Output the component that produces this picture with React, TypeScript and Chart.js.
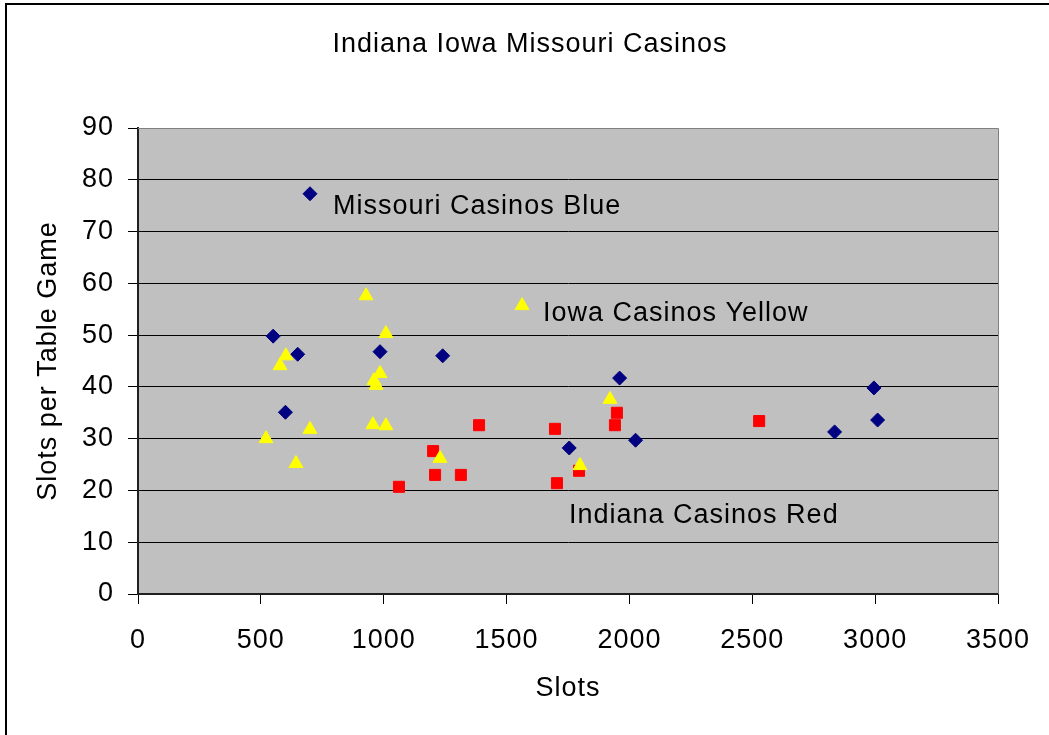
import React, { useEffect, useRef } from "react";
import { Chart, registerables } from "chart.js";

Chart.register(...registerables);

const FONT_FAMILY = "'Liberation Sans', Arial, Helvetica, sans-serif";
const FONT_SIZE = 27;

const chartTitle = "Indiana Iowa Missouri Casinos";
const xAxisTitle = "Slots";
const yAxisTitle = "Slots per Table Game";

// Axis ranges (tick labels 0..3500 by 500, 0..90 by 10)
const xMin = 0;
const xMax = 3500;
const xStep = 500;
const yMin = 0;
const yMax = 90;
const yStep = 10;

// Missouri casinos: slot machines vs slots per table game
const missouriSlots = [700, 550, 650, 985, 1240, 600, 1960, 1755, 2025, 2835, 2995, 3010];
const missouriRatio = [77.3, 49.8, 46.3, 46.8, 46.0, 35.1, 41.7, 28.2, 29.7, 31.3, 39.8, 33.6];

// Iowa casinos
const iowaSlots = [928, 1009, 602, 578, 985, 960, 969, 1921, 956, 1009, 700, 521, 643, 1229, 1799, 1563];
const iowaRatio = [57.6, 50.3, 46.0, 44.1, 42.6, 41.2, 40.3, 37.6, 32.7, 32.5, 31.8, 30.0, 25.2, 26.2, 24.8, 55.7];

// Indiana casinos
const indianaSlots = [1388, 1697, 1949, 1941, 1201, 1209, 1314, 1062, 1705, 1795, 2528];
const indianaRatio = [32.6, 31.9, 35.0, 32.6, 27.6, 23.0, 23.0, 20.7, 21.4, 23.8, 33.4];

// Text notes naming each state's colour, anchored in axis units
const noteTexts = ["Missouri Casinos Blue", "Iowa Casinos Yellow", "Indiana Casinos Red"];
const noteSlots = [794, 1648, 1754];
const noteRatio = [73.4, 52.8, 13.8];

const toPoints = (xs: number[], ys: number[]) => xs.map((x, i) => ({ x, y: ys[i] }));

const font = (size = FONT_SIZE) => `${size}px ${FONT_FAMILY}`;

const decorations = {
  id: "decorations",
  beforeUpdate(chart: any) {
    chart.ctx.letterSpacing = "1px";
  },
  beforeDraw(chart: any) {
    const { ctx, chartArea: a, width, height } = chart;
    ctx.save();
    ctx.fillStyle = "#ffffff";
    ctx.fillRect(0, 0, width, height);
    ctx.fillStyle = "#c0c0c0";
    ctx.fillRect(a.left, a.top, a.right - a.left, a.bottom - a.top);
    // outer chart frame (continues past the right and bottom edges)
    ctx.strokeStyle = "#000000";
    ctx.lineWidth = 2;
    ctx.strokeRect(6, 4, width + 40, height + 40);
    ctx.restore();
    ctx.letterSpacing = "1px";
  },
  beforeDatasetsDraw(chart: any) {
    const { ctx, chartArea: a } = chart;
    ctx.save();
    ctx.strokeStyle = "#808080";
    ctx.lineWidth = 1;
    ctx.beginPath();
    ctx.moveTo(a.left, Math.round(a.top) + 0.5);
    ctx.lineTo(Math.round(a.right) + 0.5, Math.round(a.top) + 0.5);
    ctx.lineTo(Math.round(a.right) + 0.5, a.bottom);
    ctx.stroke();
    ctx.restore();
  },
  afterDraw(chart: any) {
    const { ctx, scales } = chart;
    ctx.save();
    ctx.letterSpacing = "1px";
    ctx.fillStyle = "#000000";
    ctx.font = font();
    ctx.textBaseline = "alphabetic";
    ctx.textAlign = "center";
    ctx.fillText(chartTitle, 530, 52);
    ctx.textAlign = "left";
    noteTexts.forEach((t, i) => {
      ctx.fillText(t, scales.x.getPixelForValue(noteSlots[i]), scales.y.getPixelForValue(noteRatio[i]));
    });
    ctx.restore();
  },
};

export default function App() {
  const canvasRef = useRef<HTMLCanvasElement>(null);

  useEffect(() => {
    const canvas = canvasRef.current;
    if (!canvas) return;
    const chart = new Chart(canvas, {
      type: "scatter",
      data: {
        datasets: [
          {
            label: "Iowa",
            data: toPoints(iowaSlots, iowaRatio),
            pointStyle: "triangle",
            pointRadius: 8,
            backgroundColor: "#ffff00",
            borderColor: "#ffff00",
            borderWidth: 1,
          },
          {
            label: "Missouri",
            data: toPoints(missouriSlots, missouriRatio),
            pointStyle: "rectRot",
            pointRadius: 7,
            backgroundColor: "#000080",
            borderColor: "#000080",
            borderWidth: 1,
          },
          {
            label: "Indiana",
            data: toPoints(indianaSlots, indianaRatio),
            pointStyle: "rect",
            pointRadius: 7.8,
            backgroundColor: "#ff0000",
            borderColor: "#ff0000",
            borderWidth: 1,
          },
        ],
      },
      options: {
        animation: false,
        responsive: false,
        devicePixelRatio: 1,
        events: [],
        layout: { padding: { left: 8, top: 128, right: 51, bottom: 0 } },
        plugins: {
          legend: { display: false },
          title: { display: false },
          tooltip: { enabled: false },
        },
        scales: {
          x: {
            type: "linear",
            min: xMin,
            max: xMax,
            ticks: {
              stepSize: xStep,
              padding: 20,
              color: "#000000",
              font: { family: FONT_FAMILY, size: FONT_SIZE },
              maxRotation: 0,
              callback: (v: any) => String(v),
            },
            grid: {
              drawOnChartArea: false,
              drawTicks: true,
              tickLength: 10,
              tickColor: "#000000",
            },
            border: { display: true, color: "#202020", width: 2 },
            title: {
              display: true,
              text: xAxisTitle,
              color: "#000000",
              font: { family: FONT_FAMILY, size: FONT_SIZE },
              padding: { top: 0, bottom: 30 },
            },
            afterFit(scale: any) {
              scale.height = 141;
              scale.paddingLeft = 0;
              scale.paddingRight = 0;
            },
          },
          y: {
            type: "linear",
            min: yMin,
            max: yMax,
            ticks: {
              stepSize: yStep,
              padding: 14,
              color: "#000000",
              font: { family: FONT_FAMILY, size: FONT_SIZE },
              callback: (v: any) => String(v),
            },
            grid: {
              color: (c: any) => (c.tick && c.tick.value === yMax ? "#808080" : "#000000"),
              lineWidth: 1,
              drawTicks: true,
              tickLength: 10,
              tickColor: "#000000",
            },
            border: { display: true, color: "#202020", width: 2 },
            title: {
              display: true,
              text: yAxisTitle,
              color: "#000000",
              font: { family: FONT_FAMILY, size: FONT_SIZE },
              padding: { top: 24, bottom: 0 },
            },
            afterFit(scale: any) {
              scale.width = 130;
              scale.paddingTop = 0;
              scale.paddingBottom = 0;
            },
          },
        },
      },
      plugins: [decorations],
    } as any);
    return () => chart.destroy();
  }, []);

  return (
    <div style={{ position: "absolute", left: 0, top: 0, width: 1049, height: 735 }}>
      <canvas
        ref={canvasRef}
        width={1049}
        height={735}
        style={{ display: "block", width: 1049, height: 735 }}
      />
    </div>
  );
}
